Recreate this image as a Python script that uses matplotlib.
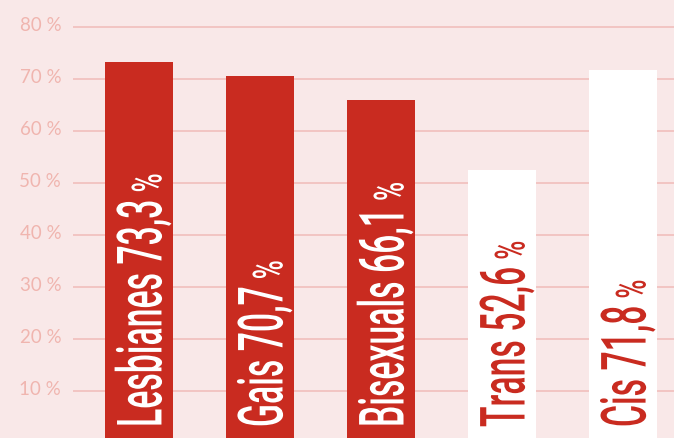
import matplotlib
matplotlib.use("Agg")
import matplotlib.pyplot as plt
from matplotlib import patheffects
from matplotlib.transforms import Affine2D, ScaledTranslation

# data
groups = ["Lesbianes", "Gais", "Bisexuals", "Trans", "Cis"]
shares = [73.3, 70.7, 66.1, 52.6, 71.8]
share_labels = ["73,3", "70,7", "66,1", "52,6", "71,8"]
yticks = [10, 20, 30, 40, 50, 60, 70, 80]

# style
bg = "#F9E8E8"
red = "#C92B20"
grid_col = "#F2C5C2"
tick_col = "#F0B5AF"
bar_colors = [red, red, red, "white", "white"]
text_colors = ["white", "white", "white", red, red]
SQUEEZE = 0.54


class Squeeze(patheffects.AbstractPathEffect):
    """Compress glyphs along the (vertical) reading direction of rotated text."""

    def __init__(self, text, factor):
        super().__init__()
        self.text = text
        self.factor = factor

    def draw_path(self, renderer, gc, tpath, affine, rgbFace=None):
        x0, y0 = self.text.get_transform().transform(self.text.get_position())
        sq = Affine2D().translate(-x0, -y0).scale(1, self.factor).translate(x0, y0)
        renderer.draw_path(gc, tpath, affine + sq, rgbFace)


fig = plt.figure(figsize=(6.74, 4.39), dpi=100, facecolor=bg)
ax = fig.add_axes([73 / 674, -4.6 / 439, 1 - 73 / 674, 1 + 4.6 / 439])
ax.set_facecolor(bg)

x = list(range(len(groups)))
ax.bar(x, shares, width=0.562, color=bar_colors, zorder=2)

ax.set_xlim(-0.545, 4.421)
ax.set_ylim(0, 85.47)
ax.set_yticks(yticks)
ax.set_yticklabels([f"{v} %" for v in yticks])
ax.set_xticks([])
ax.grid(axis="y", color=grid_col, linewidth=1.4, zorder=1)
ax.tick_params(axis="y", length=0, pad=8.5, labelsize=13.5, labelcolor=tick_col)
for lab in ax.get_yticklabels():
    lab.set_fontfamily(["Lato", "DejaVu Sans"])
    lab.set_transform(lab.get_transform() + ScaledTranslation(0, 4 / 100, fig.dpi_scale_trans))
for s in ax.spines.values():
    s.set_visible(False)

# rotated labels inside the bars
base_off = ScaledTranslation(22.5 / 100, 0, fig.dpi_scale_trans)
main_texts = []
for i, (g, lab) in enumerate(zip(groups, share_labels)):
    t = ax.text(i, 3.0, f"{g} {lab}", rotation=90, rotation_mode="anchor",
                ha="left", va="baseline", fontsize=45, fontweight="medium",
                color=text_colors[i], family=["Roboto", "DejaVu Sans"],
                transform=ax.transData + base_off, zorder=3)
    t.set_path_effects([Squeeze(t, SQUEEZE)])
    main_texts.append(t)

fig.canvas.draw()
r = fig.canvas.get_renderer()
for i, t in enumerate(main_texts):
    length = t.get_window_extent(r).height * SQUEEZE
    off = ScaledTranslation(22.5 / 100, (length + 7) / 100, fig.dpi_scale_trans)
    p = ax.text(i, 3.0, "%", rotation=90, rotation_mode="anchor",
                ha="left", va="baseline", fontsize=30, fontweight="medium",
                color=text_colors[i], family=["Roboto", "DejaVu Sans"],
                transform=ax.transData + off, zorder=3)
    p.set_path_effects([Squeeze(p, 0.62)])

fig.savefig("out.png", dpi=100, facecolor=bg)
